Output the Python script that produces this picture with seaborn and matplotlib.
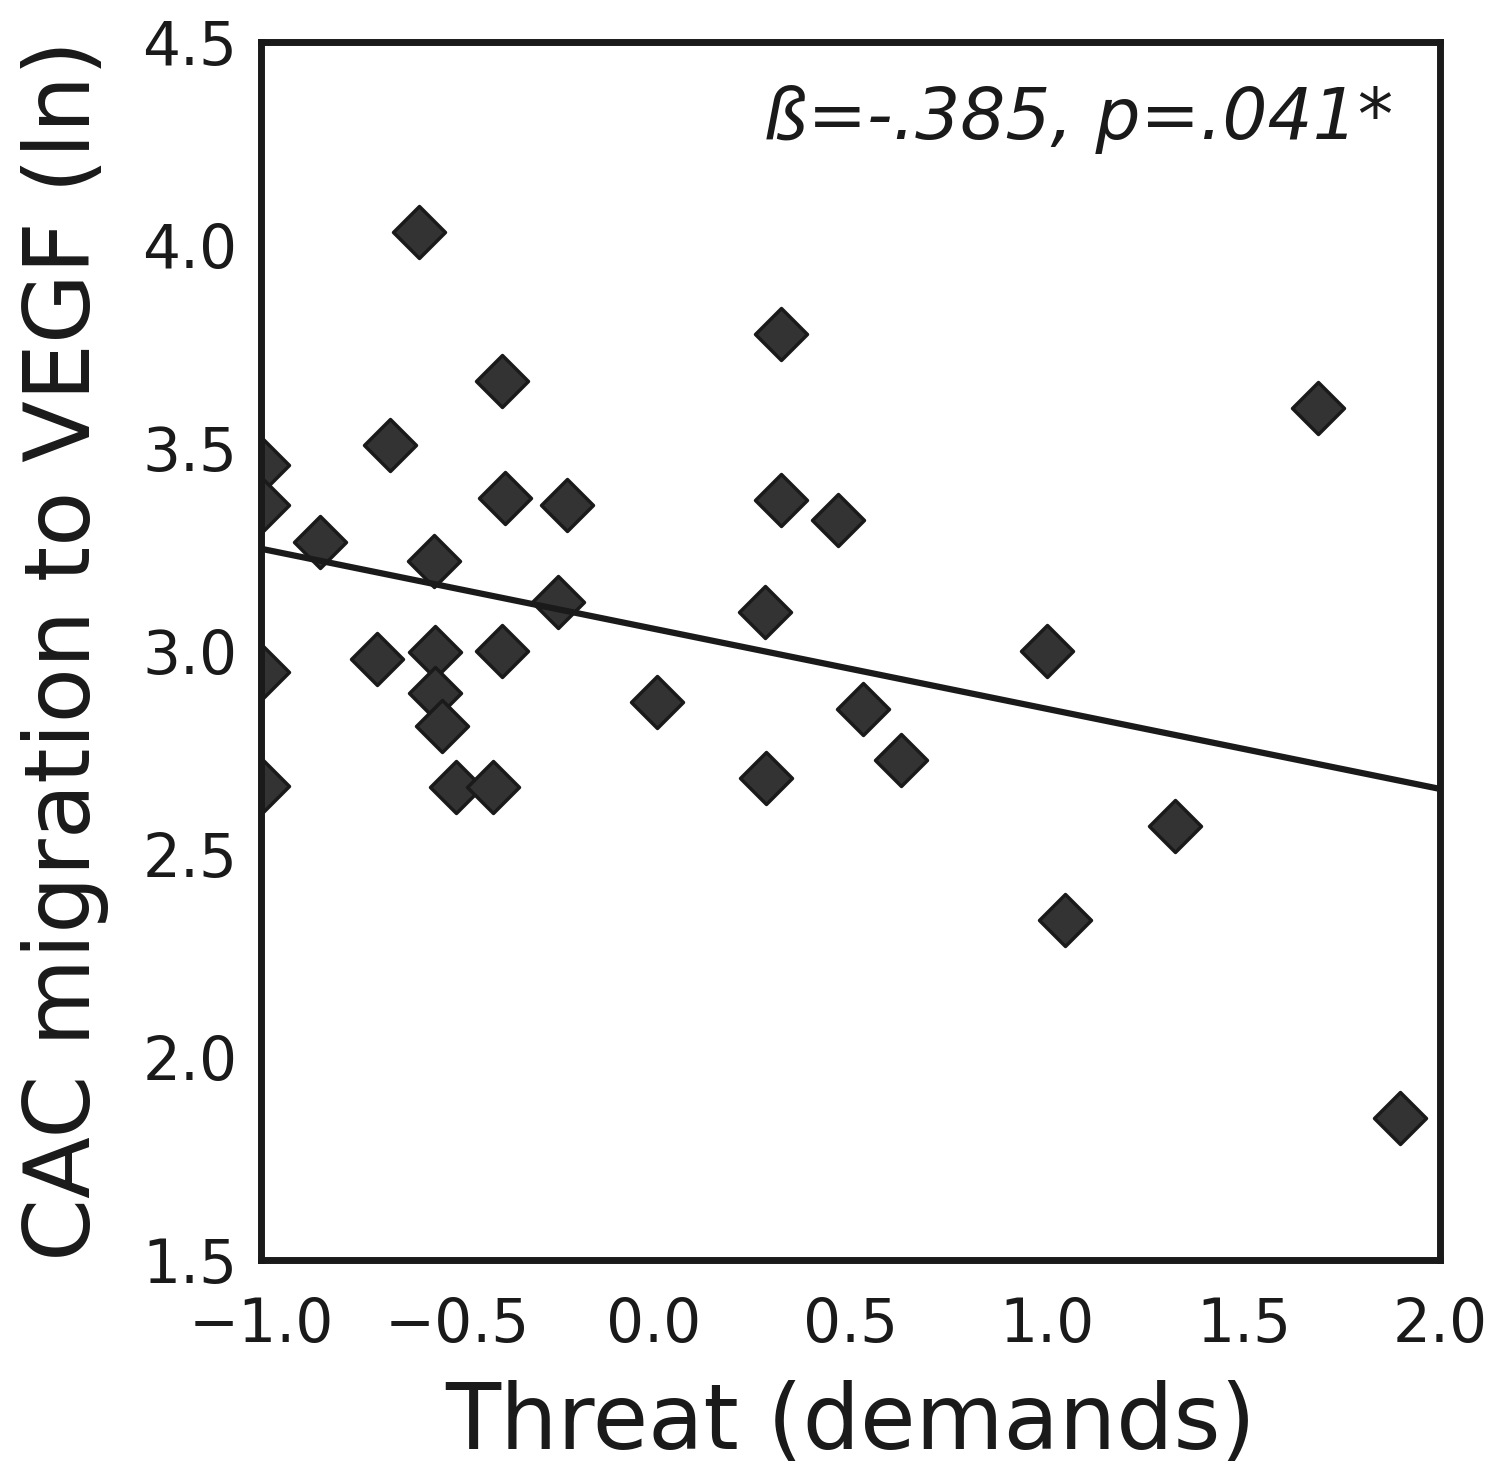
import numpy as np
import pandas as pd
import matplotlib
matplotlib.use("Agg")
import matplotlib.pyplot as plt
import seaborn as sns

# valores
threat = [-0.598, 0.323, -0.387, 1.690, -0.672, -0.995, -0.995, -0.379, -0.221,
          0.323, 0.468, -0.850, -0.560, -0.244, 0.282, -0.705, -0.557, -0.387,
          1.000, -0.995, -0.557, 0.008, -0.539, 0.532, 0.628, -0.995, -0.504,
          -0.410, 0.285, 1.326, 1.046, 1.898]
cac = [4.032, 3.781, 3.665, 3.599, 3.507, 3.458, 3.360, 3.377, 3.360,
       3.372, 3.323, 3.269, 3.222, 3.121, 3.097, 2.981, 2.998, 3.000,
       3.000, 2.948, 2.897, 2.874, 2.816, 2.858, 2.732, 2.667, 2.665,
       2.665, 2.687, 2.569, 2.337, 1.850]
anotacion = "ß=-.385, p=.041*"

df = pd.DataFrame({"Threat": threat, "CAC": cac})

sns.set_style("white")
plt.rcParams["font.family"] = ["DejaVu Sans"]

fig = plt.figure(figsize=(14.97, 14.7), dpi=100)
ax = fig.add_axes([0.1743, 0.1429, 0.7876, 0.8286])

sns.regplot(data=df, x="Threat", y="CAC", ax=ax, ci=None, truncate=False,
            marker="D",
            scatter_kws={"s": 700, "color": "#333333", "edgecolor": "#1a1a1a",
                         "linewidths": 2.5, "alpha": 1},
            line_kws={"color": "#1a1a1a", "linewidth": 4.5})

ax.set_xlim(-1.0, 2.0)
ax.set_ylim(1.5, 4.5)
ax.set_xticks([-1.0, -0.5, 0.0, 0.5, 1.0, 1.5, 2.0])
ax.set_yticks([1.5, 2.0, 2.5, 3.0, 3.5, 4.0, 4.5])
ax.tick_params(axis="y", labelsize=43, colors="#1a1a1a", length=0, pad=17)
ax.tick_params(axis="x", labelsize=43, colors="#1a1a1a", length=0, pad=26)
for s in ax.spines.values():
    s.set_linewidth(5)
    s.set_color("#1a1a1a")
    s.set_zorder(5)

ax.set_xlabel("Threat (demands)", fontsize=65, color="#1a1a1a", labelpad=18)
ax.set_ylabel("CAC migration to VEGF (ln)", fontsize=65, color="#1a1a1a", labelpad=24)
ax.text(0.96, 0.965, anotacion, transform=ax.transAxes, ha="right", va="top",
        fontsize=51, style="italic", color="#1a1a1a")

plt.savefig("out.png", dpi=100)
